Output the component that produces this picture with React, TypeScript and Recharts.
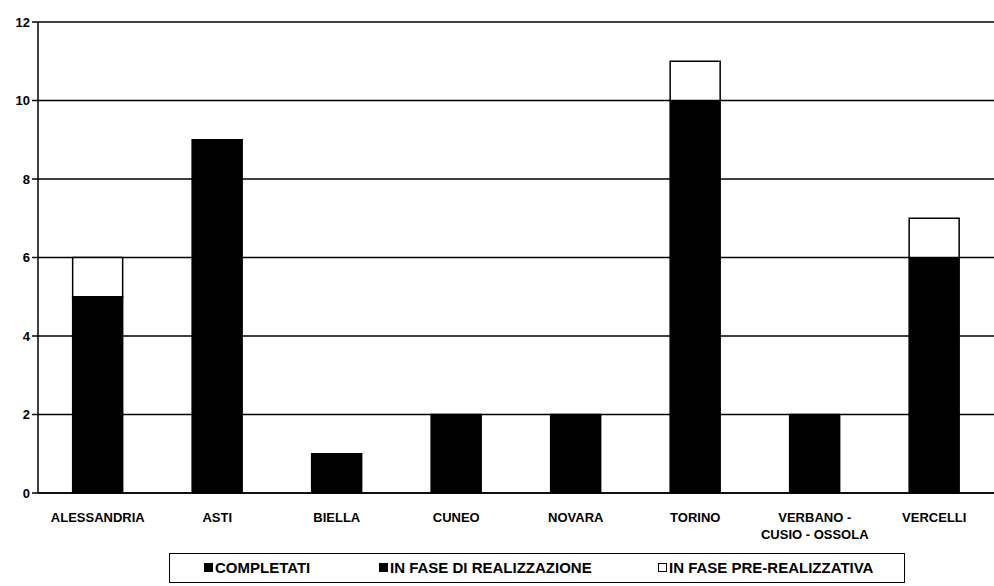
import { BarChart, Bar, XAxis, YAxis, CartesianGrid, Legend } from 'recharts'

const provinces = ['ALESSANDRIA', 'ASTI', 'BIELLA', 'CUNEO', 'NOVARA', 'TORINO', 'VERBANO - CUSIO - OSSOLA', 'VERCELLI']
const completati = [0, 0, 0, 0, 0, 0, 0, 0]
const inRealizzazione = [5, 9, 1, 2, 2, 10, 2, 6]
const preRealizzativa = [1, 0, 0, 0, 0, 1, 0, 1]
const yTicks = [0, 2, 4, 6, 8, 10, 12]

const FONT = '"Liberation Sans", Arial, sans-serif'

const data = provinces.map((name, i) => ({
  name,
  completati: completati[i],
  realizzazione: inRealizzazione[i],
  pre: preRealizzativa[i],
}))

// legend entries, offsets are relative to the legend box
const legendItems = [
  { label: 'COMPLETATI', fill: '#000', left: 34 },
  { label: 'IN FASE DI REALIZZAZIONE', fill: '#000', left: 209 },
  { label: 'IN FASE PRE-REALIZZATIVA', fill: '#fff', left: 488 },
]

function CategoryTick({ x, y, payload }: any) {
  const value: string = payload.value
  const lines = value === 'VERBANO - CUSIO - OSSOLA' ? ['VERBANO -', 'CUSIO - OSSOLA'] : [value]
  return (
    <text x={x} y={y} textAnchor="middle" fontFamily={FONT} fontSize={13} fontWeight="bold" fill="#000">
      {lines.map((l, i) => (
        <tspan key={l} x={x} dy={i === 0 ? 21 : 17}>{l}</tspan>
      ))}
    </text>
  )
}

function LegendBox() {
  return (
    <div style={{
      position: 'relative', width: 736, height: 30, border: '1.5px solid #000',
      fontFamily: FONT, fontSize: 15, fontWeight: 'bold', boxSizing: 'border-box',
    }}>
      {legendItems.map(it => (
        <div key={it.label} style={{
          position: 'absolute', left: it.left, top: 5, display: 'flex',
          alignItems: 'center', whiteSpace: 'nowrap',
        }}>
          <span style={{
            width: 7, height: 7, background: it.fill, border: '1.5px solid #000',
            marginRight: 2, display: 'inline-block',
          }} />
          {it.label}
        </div>
      ))}
    </div>
  )
}

export default function App() {
  return (
    <div style={{ position: 'absolute', left: 0, top: 0, background: '#fff' }}>
      <BarChart
        width={994}
        height={586}
        data={data}
        margin={{ top: 22, right: 0, left: 0, bottom: 13 }}
        barCategoryGap="29%"
      >
        <CartesianGrid horizontal vertical={false} stroke="#000" strokeWidth={1.5} />
        <XAxis
          dataKey="name"
          height={50}
          tick={<CategoryTick />}
          tickLine={false}
          axisLine={{ stroke: '#000', strokeWidth: 1.5 }}
          interval={0}
        />
        <YAxis
          width={38}
          domain={[0, 12]}
          ticks={yTicks}
          tickSize={6}
          tickLine={{ stroke: '#000', strokeWidth: 1.5 }}
          axisLine={{ stroke: '#000', strokeWidth: 1.5 }}
          tick={{ fontFamily: FONT, fontSize: 13, fontWeight: 'bold', fill: '#000' }}
        />
        <Legend
          content={<LegendBox />}
          height={30}
          wrapperStyle={{ left: 169, top: 553, width: 736, bottom: 'auto' }}
        />
        <Bar dataKey="completati" stackId="a" fill="#000" stroke="#000" strokeWidth={1.5} isAnimationActive={false} />
        <Bar dataKey="realizzazione" stackId="a" fill="#000" stroke="#000" strokeWidth={1.5} isAnimationActive={false} />
        <Bar dataKey="pre" stackId="a" fill="#fff" stroke="#000" strokeWidth={1.5} isAnimationActive={false} />
      </BarChart>
    </div>
  )
}
